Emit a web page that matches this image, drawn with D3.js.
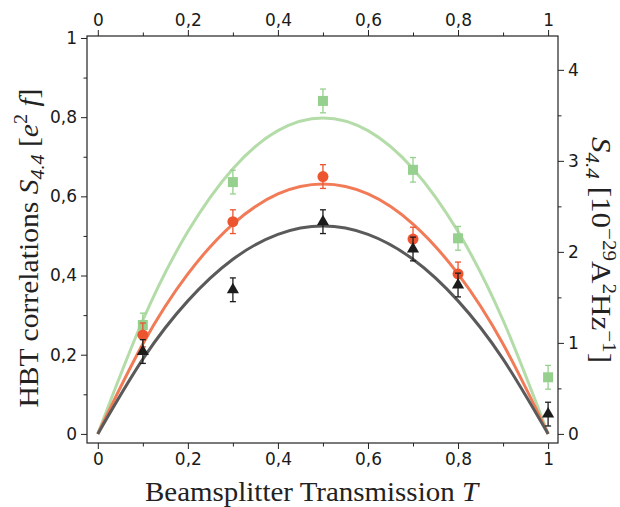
<!DOCTYPE html>
<html>
<head>
<meta charset="utf-8">
<script src="https://cdn.jsdelivr.net/npm/d3@7"></script>
<style>
  body { margin: 0; background: #fff; }
  .tick text { font-family: "DejaVu Sans", sans-serif; font-size: 17px; fill: #1a1a1a; }
  .ttl { font-family: "Liberation Serif", "DejaVu Serif", serif; fill: #222; }
</style>
</head>
<body>
<svg id="chart" width="620" height="507"></svg>
<script>
// measured transmission values
const trans = [0.1, 0.3, 0.5, 0.7, 0.8, 1.0];
const greenVals = [0.275, 0.636, 0.841, 0.667, 0.494, 0.143];
const greenErr = [0.03, 0.03, 0.03, 0.031, 0.03, 0.03];
const redTrans = [0.1, 0.3, 0.5, 0.7, 0.8];
const redVals = [0.25, 0.536, 0.65, 0.492, 0.404];
const redErr = [0.03, 0.03, 0.03, 0.03, 0.03];
const blackVals = [0.208, 0.364, 0.536, 0.467, 0.376, 0.05];
const blackErr = [0.03, 0.03, 0.03, 0.03, 0.03, 0.03];

// fit curves
const fitT = [0, 0.1, 0.2, 0.3, 0.4, 0.5, 0.6, 0.7, 0.8, 0.9, 1.0];
const greenFit = [0, 0.287, 0.511, 0.670, 0.766, 0.798, 0.766, 0.670, 0.511, 0.287, 0];
const redFit = [0, 0.227, 0.404, 0.530, 0.606, 0.631, 0.606, 0.530, 0.404, 0.227, 0];
const blackFit = [0, 0.189, 0.336, 0.441, 0.504, 0.525, 0.504, 0.441, 0.336, 0.189, 0];

const xTicks = [0, 0.2, 0.4, 0.6, 0.8, 1];
const yTicks = [0, 0.2, 0.4, 0.6, 0.8, 1];
const rightTicks = [0, 1, 2, 3, 4];
const rightFactor = 4.35;

let svg = d3.select("#chart");
let pLeft = 87, pRight = 558, pTop = 36, pBottom = 443;

let xScale = d3.scaleLinear().domain([-0.024, 1.022]).range([pLeft, pRight]);
let yScale = d3.scaleLinear().domain([-0.023, 1.005]).range([pBottom, pTop]);
let yRight = d3.scaleLinear()
    .domain([-0.023 * rightFactor, 1.005 * rightFactor]).range([pBottom, pTop]);

let fmt = d => String(d).replace(".", ",");

function minorAxis(g, axisFn, scale, vals) {
    g.call(axisFn(scale).tickValues(vals).tickSize(3.5).tickFormat(""));
    g.select(".domain").remove();
    g.selectAll("line").attr("stroke", "#222").attr("stroke-width", 1);
}
function majorAxis(g, axisFn, scale, vals, format) {
    g.call(axisFn(scale).tickValues(vals).tickSize(6).tickPadding(4).tickFormat(format));
    g.select(".domain").remove();
    g.selectAll("line").attr("stroke", "#222").attr("stroke-width", 1);
}

let xMinor = [0.1, 0.3, 0.5, 0.7, 0.9];
let yMinor = [0.1, 0.3, 0.5, 0.7, 0.9];
let rMinor = [0.5, 1.5, 2.5, 3.5];

let gb = svg.append("g").attr("transform", "translate(0," + pBottom + ")");
majorAxis(gb, d3.axisBottom, xScale, xTicks, fmt);
minorAxis(svg.append("g").attr("transform", "translate(0," + pBottom + ")"), d3.axisBottom, xScale, xMinor);

let gt = svg.append("g").attr("transform", "translate(0," + pTop + ")");
majorAxis(gt, d3.axisTop, xScale, xTicks, fmt);
minorAxis(svg.append("g").attr("transform", "translate(0," + pTop + ")"), d3.axisTop, xScale, xMinor);

let gl = svg.append("g").attr("transform", "translate(" + pLeft + ",0)");
majorAxis(gl, d3.axisLeft, yScale, yTicks, fmt);
minorAxis(svg.append("g").attr("transform", "translate(" + pLeft + ",0)"), d3.axisLeft, yScale, yMinor);

let gr = svg.append("g").attr("transform", "translate(" + pRight + ",0)");
majorAxis(gr, d3.axisRight, yRight, rightTicks, fmt);
minorAxis(svg.append("g").attr("transform", "translate(" + pRight + ",0)"), d3.axisRight, yRight, rMinor);

svg.append("rect")
    .attr("x", pLeft).attr("y", pTop)
    .attr("width", pRight - pLeft).attr("height", pBottom - pTop)
    .attr("fill", "none").attr("stroke", "#222").attr("stroke-width", 1.2);

// fit lines
let line = d3.line()
    .x((d, i) => xScale(fitT[i]))
    .y(d => yScale(d))
    .curve(d3.curveNatural);

let fits = [
    {vals: greenFit, color: "#b4dca8"},
    {vals: redFit, color: "#f27b57"},
    {vals: blackFit, color: "#5a5a5a"}
];
svg.selectAll("path.fit").data(fits).enter().append("path")
    .attr("class", "fit")
    .attr("d", d => line(d.vals))
    .attr("fill", "none")
    .attr("stroke", d => d.color)
    .attr("stroke-width", 3);

// error bars
function errorBars(xs, ys, errs, color) {
    let g = svg.append("g").attr("stroke", color).attr("stroke-width", 1.3);
    xs.forEach(function(t, i) {
        let x = xScale(t), y0 = yScale(ys[i] - errs[i]), y1 = yScale(ys[i] + errs[i]);
        g.append("line").attr("x1", x).attr("x2", x).attr("y1", y0).attr("y2", y1);
        g.append("line").attr("x1", x - 3).attr("x2", x + 3).attr("y1", y0).attr("y2", y0);
        g.append("line").attr("x1", x - 3).attr("x2", x + 3).attr("y1", y1).attr("y2", y1);
    });
}

errorBars(trans, greenVals, greenErr, "#96d08e");
svg.selectAll("rect.sq").data(greenVals).enter().append("rect")
    .attr("class", "sq")
    .attr("x", (d, i) => xScale(trans[i]) - 5)
    .attr("y", d => yScale(d) - 5)
    .attr("width", 10).attr("height", 10)
    .attr("fill", "#96d08e");

errorBars(redTrans, redVals, redErr, "#ec5530");
svg.selectAll("circle.pt").data(redVals).enter().append("circle")
    .attr("class", "pt")
    .attr("cx", (d, i) => xScale(redTrans[i]))
    .attr("cy", d => yScale(d))
    .attr("r", 5.5)
    .attr("fill", "#ec5530");

errorBars(trans, blackVals, blackErr, "#1c1c1c");
let tri = d3.symbol().type(d3.symbolTriangle).size(64);
svg.selectAll("path.tri").data(blackVals).enter().append("path")
    .attr("class", "tri")
    .attr("transform", (d, i) => "translate(" + xScale(trans[i]) + "," + yScale(d) + ")")
    .attr("d", tri())
    .attr("fill", "#1c1c1c");

// axis titles
let xt = svg.append("text").attr("class", "ttl")
    .attr("x", 311.5).attr("y", 501)
    .attr("text-anchor", "middle").attr("font-size", 28)
    .attr("textLength", 333).attr("lengthAdjust", "spacingAndGlyphs");
xt.append("tspan").text("Beamsplitter Transmission ");
xt.append("tspan").attr("font-style", "italic").text("T");

let lt = svg.append("text").attr("class", "ttl")
    .attr("transform", "translate(38,248) rotate(-90)")
    .attr("text-anchor", "middle").attr("font-size", 28)
    .attr("textLength", 319).attr("lengthAdjust", "spacingAndGlyphs");
lt.append("tspan").text("HBT correlations ");
lt.append("tspan").attr("font-style", "italic").text("S");
lt.append("tspan").attr("font-style", "italic").attr("font-size", 19).attr("dy", 6).text("4.4");
lt.append("tspan").attr("dy", -6).text(" [");
lt.append("tspan").attr("font-style", "italic").text("e");
lt.append("tspan").attr("font-size", 19).attr("dy", -11).text("2");
lt.append("tspan").attr("font-style", "italic").attr("dy", 11).text(" f");
lt.append("tspan").text("]");

let rt = svg.append("text").attr("class", "ttl")
    .attr("transform", "translate(592,250) rotate(90)")
    .attr("text-anchor", "middle").attr("font-size", 28)
    .attr("textLength", 226).attr("lengthAdjust", "spacingAndGlyphs");
rt.append("tspan").attr("font-style", "italic").text("S");
rt.append("tspan").attr("font-style", "italic").attr("font-size", 19).attr("dy", 6).text("4.4");
rt.append("tspan").attr("dy", -6).text(" [10");
rt.append("tspan").attr("font-size", 19).attr("dy", -11).text("\u221229");
rt.append("tspan").attr("dy", 11).text("A");
rt.append("tspan").attr("font-size", 19).attr("dy", -11).text("2");
rt.append("tspan").attr("dy", 11).text("Hz");
rt.append("tspan").attr("font-size", 19).attr("dy", -11).text("\u22121");
rt.append("tspan").attr("dy", 11).text("]");
</script>
</body>
</html>
